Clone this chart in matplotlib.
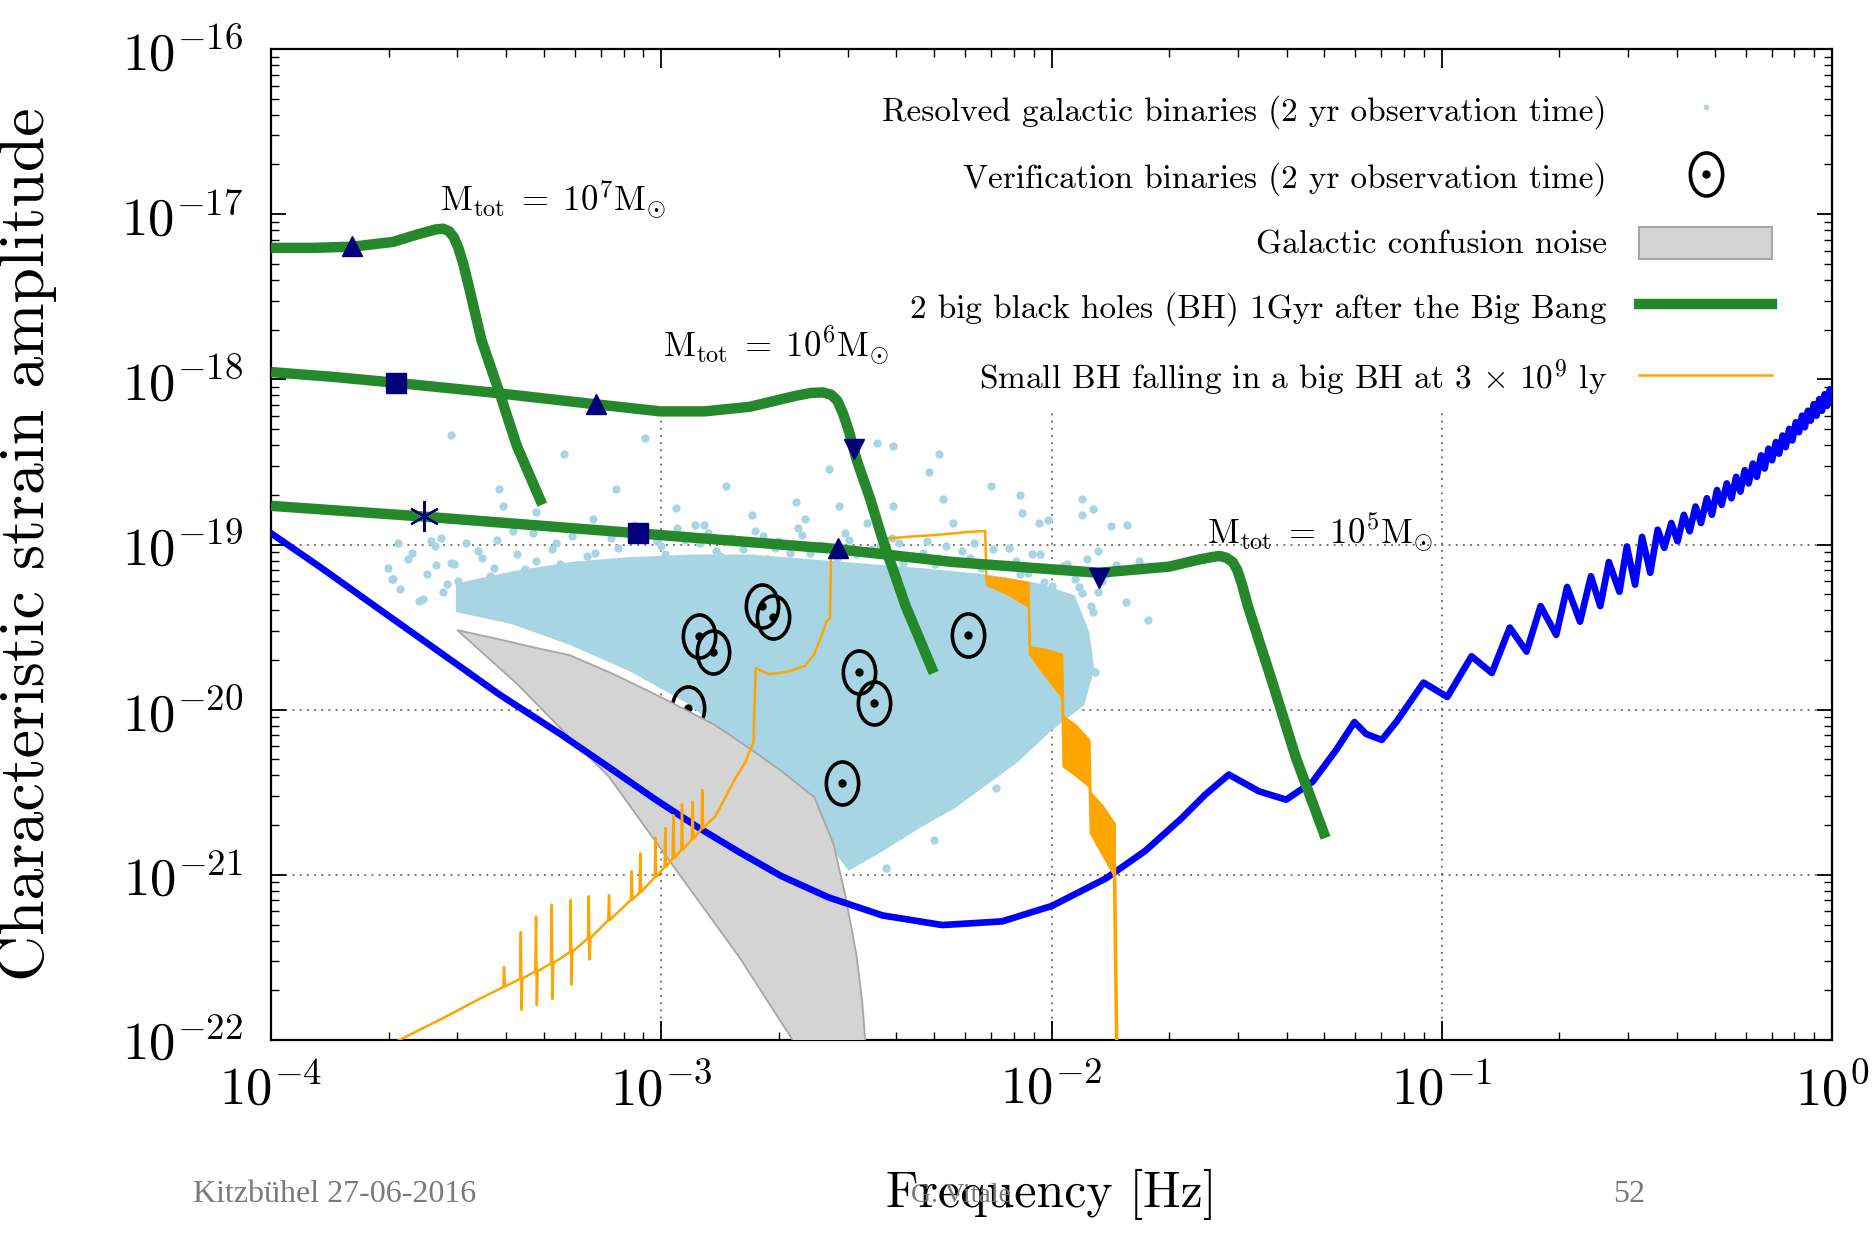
import numpy as np
import matplotlib
matplotlib.use("Agg")
import matplotlib.pyplot as plt
from matplotlib.lines import Line2D
from matplotlib.patches import Patch
from matplotlib.path import Path
from matplotlib.markers import MarkerStyle
from matplotlib.transforms import Affine2D
from matplotlib.legend_handler import HandlerTuple
from matplotlib.ticker import LogLocator, NullFormatter

plt.rcParams["font.family"] = "serif"
plt.rcParams["font.serif"] = ["cmr10", "DejaVu Serif"]
plt.rcParams["mathtext.fontset"] = "cm"
plt.rcParams["axes.unicode_minus"] = False

# ---------------------------------------------------------------------------
# Data (log10 of frequency [Hz] and of characteristic strain)
# ---------------------------------------------------------------------------
# LISA sensitivity curve
lisa_logf = [-4.000, -3.871, -3.725, -3.596, -3.415, -3.259, -3.125, -3.015, -2.907, -2.800,
             -2.693, -2.571, -2.433, -2.280, -2.127, -1.999, -1.861, -1.760, -1.668, -1.607,
             -1.546, -1.469, -1.399, -1.331, -1.270, -1.224, -1.194, -1.154, -1.117, -1.047,
             -0.986, -0.924, -0.872, -0.826, -0.783, -0.747, -0.707, -0.679, -0.646, -0.618,
             -0.594, -0.572, -0.545, -0.526, -0.505, -0.487, -0.466, -0.447,
             -0.430, -0.412, -0.396, -0.380, -0.365, -0.350, -0.336, -0.321, -0.308, -0.295,
             -0.283, -0.270, -0.258, -0.246, -0.235, -0.224, -0.214, -0.203, -0.193, -0.182,
             -0.173, -0.163, -0.154, -0.144, -0.136, -0.127, -0.119, -0.110, -0.102, -0.093,
             -0.085, -0.077, -0.070, -0.062, -0.055, -0.047, -0.040, -0.033, -0.026, -0.019,
             -0.013, -0.006, 0.000]
lisa_logh = [-18.932, -19.142, -19.388, -19.604, -19.908, -20.147, -20.364, -20.544, -20.711, -20.863,
             -21.007, -21.137, -21.246, -21.304, -21.282, -21.188, -21.022, -20.855, -20.660, -20.516,
             -20.393, -20.494, -20.545, -20.436, -20.241, -20.075, -20.147, -20.183, -20.075, -19.836,
             -19.923, -19.677, -19.778, -19.503, -19.648, -19.373, -19.547, -19.257, -19.467, -19.192,
             -19.373, -19.106, -19.286, -19.012, -19.243, -18.954, -19.171, -18.910,
             -19.02, -18.87, -18.98, -18.82, -18.92, -18.77, -18.87, -18.72, -18.82, -18.67,
             -18.76, -18.63, -18.72, -18.59, -18.68, -18.55, -18.63, -18.51, -18.59, -18.46,
             -18.54, -18.42, -18.49, -18.38, -18.45, -18.34, -18.41, -18.30, -18.37, -18.26,
             -18.32, -18.22, -18.29, -18.19, -18.25, -18.15, -18.22, -18.12, -18.19, -18.09,
             -18.16, -18.06, -18.08]

# Massive black hole binaries, M_tot = 1e7, 1e6, 1e5 solar masses
mbh7_logf = [-4.000, -3.896, -3.792, -3.688, -3.627, -3.578, -3.559, -3.544, -3.532, -3.520,
             -3.507, -3.492, -3.461, -3.412, -3.370, -3.305]
mbh7_logh = [-17.204, -17.204, -17.197, -17.168, -17.124, -17.092, -17.088, -17.103, -17.139, -17.204,
             -17.305, -17.450, -17.761, -18.100, -18.404, -18.759]
mbh6_logf = [-4.000, -3.841, -3.679, -3.437, -3.168, -3.002, -2.889, -2.773, -2.656, -2.617,
             -2.586, -2.565, -2.549, -2.534, -2.519, -2.500, -2.464, -2.436, -2.375, -2.302]
mbh6_logh = [-17.956, -17.985, -18.021, -18.079, -18.151, -18.194, -18.194, -18.166, -18.100, -18.082,
             -18.079, -18.093, -18.129, -18.209, -18.317, -18.484, -18.730, -18.947, -19.366, -19.778]
mbh5_logf = [-4.000, -3.608, -3.060, -2.556, -2.253, -1.879, -1.699, -1.622, -1.591, -1.570,
             -1.552, -1.536, -1.524, -1.512, -1.497, -1.435, -1.374, -1.298]
mbh5_logh = [-18.766, -18.831, -18.932, -19.026, -19.106, -19.171, -19.134, -19.091, -19.077, -19.069,
             -19.080, -19.106, -19.156, -19.243, -19.373, -19.829, -20.291, -20.776]

# Time markers along the binary tracks
tri_up_logf = [-3.792, -3.168, -2.547]
tri_up_logh = [-17.19, -18.15, -19.02]
tri_dn_logf = [-2.507, -1.879]
tri_dn_logh = [-18.42, -19.20]
square_logf = [-3.679, -3.060]
square_logh = [-18.02, -18.93]
star_logf = [-3.608]
star_logh = [-18.83]

# Extreme mass-ratio inspiral (small BH into big BH)
emri_logf = [-3.680, -3.553, -3.467,
             -3.405, -3.403, -3.401,
             -3.362, -3.360, -3.358, -3.356,
             -3.323, -3.321, -3.319, -3.317,
             -3.283, -3.281, -3.279, -3.277,
             -3.234, -3.232, -3.230, -3.228,
             -3.188, -3.186, -3.184, -3.182,
             -3.136, -3.134, -3.132,
             -3.078, -3.076, -3.074,
             -3.056, -3.054, -3.052,
             -3.017, -3.015, -3.013,
             -2.992, -2.990, -2.988,
             -2.971, -2.969, -2.967,
             -2.949, -2.947, -2.945,
             -2.922, -2.920, -2.918,
             -2.897, -2.895, -2.893,
             -2.862, -2.834, -2.810, -2.785, -2.764,
             -2.758, -2.724, -2.678, -2.632, -2.608, -2.592, -2.577, -2.568,
             -2.565, -2.525, -2.479, -2.439, -2.436, -2.372, -2.280, -2.219, -2.170, -2.167]
emri_logh = [-22.010, -21.860, -21.752,
             -21.680, -21.557, -21.676,
             -21.630, -21.347, -21.817, -21.628,
             -21.585, -21.253, -21.788, -21.583,
             -21.537, -21.181, -21.752, -21.535,
             -21.467, -21.152, -21.665, -21.465,
             -21.385, -21.130, -21.513, -21.383,
             -21.275, -21.123, -21.273,
             -21.152, -20.978, -21.150,
             -21.107, -20.870, -21.105,
             -21.014, -20.776, -21.012,
             -20.954, -20.718, -20.952,
             -20.901, -20.638, -20.899,
             -20.850, -20.573, -20.848,
             -20.785, -20.559, -20.783,
             -20.720, -20.487, -20.718,
             -20.646, -20.523, -20.414, -20.320, -20.197,
             -19.749, -19.785, -19.771, -19.735, -19.662, -19.568, -19.467, -19.445,
             -19.069, -19.062, -19.048, -19.026, -18.968, -18.954, -18.939, -18.925, -18.918, -19.215]
emri_band_logf = [-2.167, -2.112, -2.060, -2.057, -2.017, -1.974, -1.971, -1.937, -1.904, -1.901,
                  -1.870, -1.839]
emri_band_hi = [-19.192, -19.207, -19.229, -19.619, -19.633, -19.662, -20.038, -20.096, -20.183, -20.501,
                -20.581, -20.689]
emri_band_lo = [-19.243, -19.301, -19.373, -19.662, -19.793, -19.923, -20.342, -20.400, -20.465, -20.747,
                -20.877, -21.007]
emri_tail_logf = [-1.839, -1.836, -1.833]
emri_tail_logh = [-20.95, -21.50, -22.05]

# Galactic confusion noise region (outline)
gcn_logf = [-3.523, -3.412, -3.321, -3.235, -3.122, -3.015, -2.865, -2.770, -2.693, -2.608,
            -2.559, -2.528, -2.500, -2.485, -2.476, -2.650, -2.800, -2.984, -3.134, -3.259,
            -3.367]
gcn_logh = [-19.518, -19.576, -19.626, -19.670, -19.785, -19.908, -20.089, -20.241, -20.371, -20.530,
            -20.812, -21.130, -21.485, -21.774, -22.050, -22.050, -21.499, -20.899, -20.407, -20.111,
            -19.850]

# Resolved galactic binaries: densely populated core (outline) ...
gb_core_logf = [-3.523, -3.382, -3.229, -3.076, -2.923, -2.770, -2.617, -2.464, -2.311, -2.158,
                -2.035, -1.943, -1.907, -1.894, -1.919, -2.005, -2.090, -2.170, -2.249, -2.341,
                -2.433, -2.519, -2.586, -2.678, -2.800, -2.923, -3.076, -3.229, -3.382, -3.523]
gb_core_logh = [-19.243, -19.171, -19.113, -19.084, -19.069, -19.069, -19.098, -19.127, -19.156, -19.192,
                -19.243, -19.315, -19.532, -19.749, -19.966, -20.125, -20.313, -20.451, -20.588, -20.711,
                -20.848, -20.964, -20.761, -20.472, -20.219, -19.966, -19.764, -19.604, -19.474, -19.402]
# ... sources along its upper fringe ...
gb_fringe_logf = [-3.70, -3.67, -3.64, -3.62, -3.60, -3.58, -3.56, -3.54, -3.52, -3.50,
                  -3.48, -3.46, -3.44, -3.42, -3.40, -3.37, -3.35, -3.33, -3.30, -3.28,
                  -3.26, -3.23, -3.21, -3.19, -3.16, -3.14, -3.11, -3.09, -3.06, -3.04,
                  -3.01, -2.99, -2.96, -2.93, -2.90, -2.88, -2.85, -2.82, -2.79, -2.76,
                  -2.73, -2.70, -2.67, -2.64, -2.61, -2.58, -2.55, -2.52, -2.49, -2.46,
                  -2.42, -2.39, -2.36, -2.33, -2.30, -2.27, -2.24, -2.21, -2.18, -2.15,
                  -2.12, -2.09, -2.06, -2.03, -2.00, -1.97, -1.94, -1.91, -1.88, -1.86]
gb_fringe_logh = [-19.14, -19.27, -19.05, -19.34, -19.18, -19.01, -19.29, -19.11, -19.22, -18.99,
                  -19.31, -19.08, -19.19, -18.97, -19.27, -19.06, -19.15, -18.93, -19.23, -19.03,
                  -19.12, -18.95, -19.20, -19.07, -18.91, -19.16, -19.02, -19.10, -18.94, -19.13,
                  -18.98, -19.06, -18.90, -19.09, -18.99, -18.93, -19.07, -18.96, -19.03, -18.92,
                  -19.09, -18.98, -19.05, -18.94, -19.12, -19.01, -19.08, -18.97, -19.14, -19.03,
                  -19.10, -18.99, -19.17, -19.05, -19.12, -19.01, -19.19, -19.08, -19.14, -19.03,
                  -19.22, -19.10, -19.17, -19.06, -19.25, -19.13, -19.21, -19.09, -19.29, -19.18]
gb_fringe2_logf = [-3.69, -3.65, -3.61, -3.59, -3.55, -3.53, -3.49, -3.47, -3.43, -3.41,
                   -3.38, -3.36, -3.32, -3.29, -3.27, -3.24, -3.22, -3.17, -3.15, -3.13,
                   -3.10, -3.07, -3.05, -3.02, -3.00, -2.97, -2.94, -2.92, -2.89, -2.86,
                   -2.83, -2.80, -2.77, -2.74, -2.71, -2.68, -2.65, -2.62, -2.59, -2.56,
                   -2.53, -2.50, -2.47, -2.44, -2.41, -2.38, -2.35, -2.32, -2.29, -2.26,
                   -2.23, -2.20, -2.17, -2.14, -2.11, -2.08, -2.05, -2.02, -1.99, -1.96,
                   -1.93, -1.90, -1.87]
gb_fringe2_logh = [-19.21, -19.09, -19.33, -18.98, -19.24, -19.12, -19.36, -19.04, -19.14, -19.30,
                   -18.92, -19.20, -19.10, -19.35, -18.99, -19.17, -19.28, -19.05, -19.24, -18.96,
                   -19.19, -18.88, -19.22, -19.11, -19.01, -19.16, -18.97, -19.13, -18.88, -19.04,
                   -19.15, -18.98, -19.12, -18.95, -19.02, -19.14, -18.90, -19.05, -19.00, -19.16,
                   -18.93, -19.06, -19.18, -19.01, -18.96, -19.11, -19.21, -18.98, -19.08, -19.24,
                   -19.04, -18.99, -19.13, -19.27, -19.02, -19.18, -19.06, -19.23, -19.33, -19.12,
                   -19.26, -19.37, -19.22]
# ... and isolated sources around it
gb_sparse_logf = [-3.538, -3.250, -3.042, -3.415, -3.116, -2.834, -2.571, -2.448, -2.406, -2.289,
                  -2.314, -2.155, -2.656, -2.546, -2.406, -2.277, -2.081, -1.922, -1.922, -3.688,
                  -3.676, -3.578, -3.565, -3.406, -3.321, -3.174, -2.963, -2.914, -2.767, -2.632,
                  -2.473, -2.252, -2.032, -1.848, -1.836, -1.882, -1.894, -1.910, -2.142, -2.301,
                  -2.424, -1.809, -1.888, -1.922, -2.075, -1.894, -2.008, -1.754, -1.775, -1.806]
gb_sparse_logh = [-18.339, -18.455, -18.354, -18.664, -18.664, -18.643, -18.542, -18.383, -18.404, -18.455,
                  -18.563, -18.643, -18.744, -18.766, -18.766, -18.722, -18.701, -18.722, -18.824, -19.207,
                  -18.990, -19.127, -18.961, -18.766, -18.802, -18.845, -18.780, -18.882, -18.824, -18.845,
                  -18.867, -18.867, -18.867, -18.889, -19.127, -19.041, -19.409, -19.807, -20.472, -20.790,
                  -20.957, -19.351, -19.771, -19.294, -18.809, -18.787, -18.852, -19.460, -19.098, -18.880]

# Verification binaries
vb_logf = [-2.904, -2.868, -2.742, -2.715, -2.213, -2.494, -2.455, -2.537, -2.932]
vb_logh = [-19.554, -19.648, -19.373, -19.438, -19.547, -19.771, -19.959, -20.443, -19.988]

# Axis decades
x_decades = [-4, -3, -2, -1, 0]
y_decades = [-22, -21, -20, -19, -18, -17, -16]

legend_labels = [
    "Resolved galactic binaries (2 yr observation time)",
    "Verification binaries (2 yr observation time)",
    "Galactic confusion noise",
    "2 big black holes (BH) 1Gyr after the Big Bang",
    r"Small BH falling in a big BH at 3 $\times$ 10$^{9}$ ly",
]


def pw(values):
    return np.power(10.0, np.asarray(values, dtype=float))


# ---------------------------------------------------------------------------
# Styling
# ---------------------------------------------------------------------------
C_GREEN = "#25892b"
C_BLUE = "#0000ff"
C_ORANGE = "#ffa500"
C_CLOUD = "#a8d5e3"
C_GCN = "#d4d4d4"
C_GCN_EDGE = "#a6a6a6"
C_NAVY = "#00007a"
C_GRID = "#4a4a4a"

fig = plt.figure(figsize=(18.72, 12.35), dpi=100)
fig.patch.set_facecolor("white")
ax = fig.add_axes([0.1448, 0.1579, 0.8339, 0.8024])
ax.set_xscale("log")
ax.set_yscale("log")
ax.set_xlim(pw(x_decades[0]), pw(x_decades[-1]))
ax.set_ylim(pw(y_decades[0]), pw(y_decades[-1]))

# dotted grid below the legend area
grid_kw = dict(color=C_GRID, lw=1.1, ls=(0, (1.2, 3.5)), zorder=0.6)
for d in x_decades[1:-1]:
    ax.vlines(pw(d), pw(y_decades[0]), pw(-18.2), **grid_kw)
for d in [-21, -20, -19]:
    ax.hlines(pw(d), pw(x_decades[0]), pw(x_decades[-1]), **grid_kw)

# resolved galactic binaries
ax.fill(pw(gb_core_logf), pw(gb_core_logh), facecolor=C_CLOUD, edgecolor=C_CLOUD,
        lw=2, zorder=2)
dot_kw = dict(ls="none", marker="o", ms=6, mfc=C_CLOUD, mec="none", zorder=2.1)
ax.plot(pw(gb_fringe_logf), pw(gb_fringe_logh), **dot_kw)
ax.plot(pw(gb_fringe2_logf), pw(gb_fringe2_logh), **dot_kw)
ax.plot(pw(gb_sparse_logf), pw(gb_sparse_logh), **dot_kw)

# verification binaries (sun-like symbol)
ring = MarkerStyle(Affine2D().scale(0.75, 1.0).transform_path(Path.unit_circle()))
ax.plot(pw(vb_logf), pw(vb_logh), ls="none", marker=ring, ms=31, mfc="none",
        mec="black", mew=2.6, zorder=2.5)
ax.plot(pw(vb_logf), pw(vb_logh), ls="none", marker="o", ms=5, color="black", zorder=2.5)

# galactic confusion noise
ax.fill(pw(gcn_logf), pw(gcn_logh), facecolor=C_GCN, edgecolor=C_GCN_EDGE, lw=1.3, zorder=3)

# LISA sensitivity
ax.plot(pw(lisa_logf), pw(lisa_logh), color=C_BLUE, lw=4.8, zorder=4,
        solid_joinstyle="round")

# EMRI track
ax.plot(pw(emri_logf), pw(emri_logh), color=C_ORANGE, lw=1.8, zorder=5)
ax.fill_between(pw(emri_band_logf), pw(emri_band_lo), pw(emri_band_hi),
                color=C_ORANGE, lw=1.5, zorder=5)
ax.plot(pw(emri_tail_logf), pw(emri_tail_logh), color=C_ORANGE, lw=2.6, zorder=5)

# massive black hole binaries
for lf, lh in [(mbh7_logf, mbh7_logh), (mbh6_logf, mbh6_logh), (mbh5_logf, mbh5_logh)]:
    ax.plot(pw(lf), pw(lh), color=C_GREEN, lw=7.5, zorder=6, solid_capstyle="butt",
            solid_joinstyle="round")

ax.plot(pw(tri_up_logf), pw(tri_up_logh), ls="none", marker="^", ms=15, color=C_NAVY, zorder=7)
ax.plot(pw(tri_dn_logf), pw(tri_dn_logh), ls="none", marker="v", ms=15, color=C_NAVY, zorder=7)
ax.plot(pw(square_logf), pw(square_logh), ls="none", marker="s", ms=15, color=C_NAVY, zorder=7)
ax.plot(pw(star_logf), pw(star_logh), ls="none", marker=(6, 2, 0), ms=22, mew=1.6,
        color=C_NAVY, zorder=7)

# mass annotations
lab_kw = dict(fontsize=25, ha="left", va="baseline", zorder=8)
ax.text(pw(-3.567), pw(-16.983), r"$\mathrm{M_{tot}\;=\;10^{7}M_{\odot}}$", **lab_kw)
ax.text(pw(-2.996), pw(-17.862), r"$\mathrm{M_{tot}\;=\;10^{6}M_{\odot}}$", **lab_kw)
ax.text(pw(-1.601), pw(-18.990), r"$\mathrm{M_{tot}\;=\;10^{5}M_{\odot}}$", **lab_kw)

# axes, ticks
ax.set_xticks(pw(x_decades))
ax.set_xticklabels([r"$10^{%d}$" % d for d in x_decades])
ax.set_yticks(pw(y_decades))
ax.set_yticklabels([r"$10^{%d}$" % d for d in y_decades])
ax.xaxis.set_minor_locator(LogLocator(base=10, subs=np.arange(2, 10), numticks=100))
ax.yaxis.set_minor_locator(LogLocator(base=10, subs=np.arange(2, 10), numticks=100))
ax.xaxis.set_minor_formatter(NullFormatter())
ax.yaxis.set_minor_formatter(NullFormatter())
ax.tick_params(which="both", direction="in", top=True, right=True, color="black")
ax.tick_params(axis="x", which="major", length=14, width=1.3, labelsize=38, pad=17)
ax.tick_params(axis="y", which="major", length=11, width=1.3, labelsize=38, pad=20)
ax.tick_params(which="minor", length=6, width=1.0)
for s in ax.spines.values():
    s.set_linewidth(1.6)

ax.set_xlabel("Frequency [Hz]", fontsize=36)
ax.set_ylabel("Characteristic strain amplitude", fontsize=46)
ax.xaxis.set_label_coords(0.5, -0.13)
ax.yaxis.set_label_coords(-0.137, 0.5)

# legend
h_gb = Line2D([], [], ls="none", marker="o", ms=4, mfc=C_CLOUD, mec="none")
h_vb = (Line2D([], [], ls="none", marker=ring, ms=31, mfc="none", mec="black", mew=2.6),
        Line2D([], [], ls="none", marker="o", ms=5, color="black"))
h_gcn = Patch(facecolor=C_GCN, edgecolor=C_GCN_EDGE, lw=1.5)
h_mbh = Line2D([], [], color=C_GREEN, lw=7.5)
h_emri = Line2D([], [], color=C_ORANGE, lw=1.8)
ax.legend([h_gb, h_vb, h_gcn, h_mbh, h_emri], legend_labels,
          loc="upper right", bbox_to_anchor=(0.9616, 0.955), markerfirst=False,
          frameon=False, fontsize=24, handlelength=4.0, handleheight=1.1,
          handletextpad=0.96, labelspacing=0.92, borderpad=0, borderaxespad=0,
          handler_map={tuple: HandlerTuple(ndivide=1)})

# slide footer
foot_kw = dict(family="Liberation Serif", color="#7a7a7a", va="center")
fig.text(193 / 1872, 1 - 1195 / 1235, "Kitzbühel 27-06-2016", ha="left", fontsize=23, **foot_kw)
fig.text(961 / 1872, 1 - 1195 / 1235, "G. Vitale", ha="center", fontsize=20, **foot_kw)
fig.text(1629 / 1872, 1 - 1195 / 1235, "52", ha="center", fontsize=23, **foot_kw)

fig.savefig("out.png", dpi=100, facecolor="white")
